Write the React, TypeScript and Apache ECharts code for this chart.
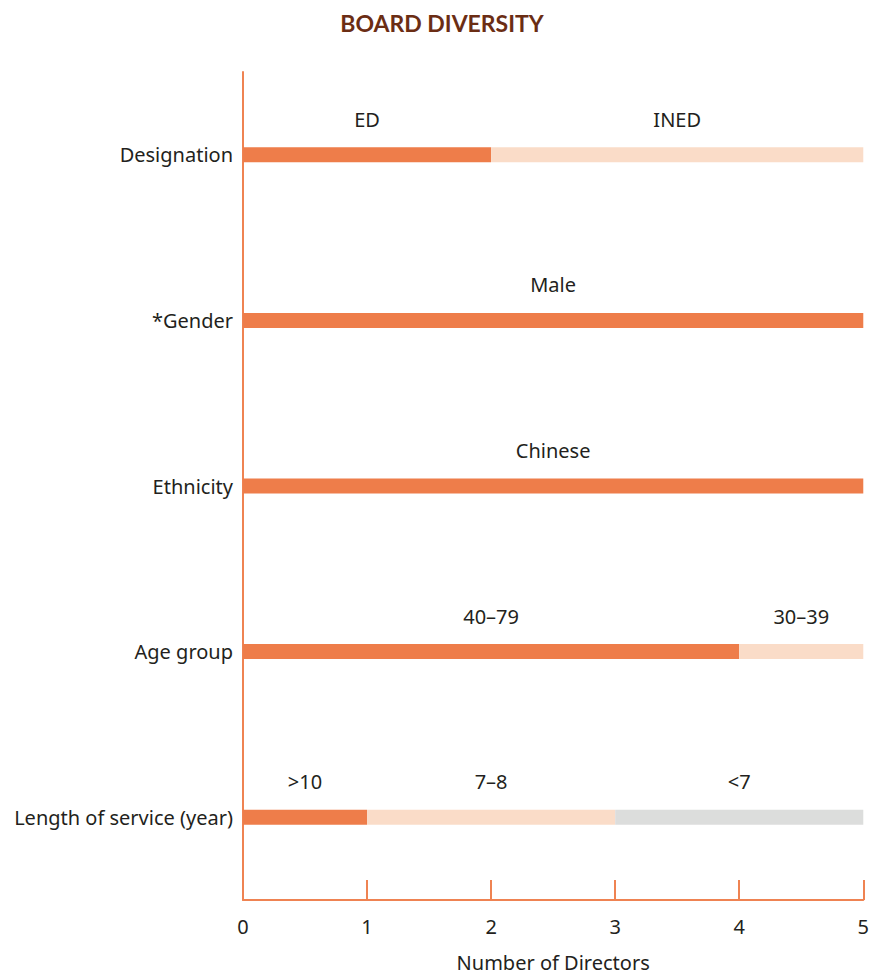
import React, { useEffect, useRef } from "react";
import * as echarts from "echarts";

const categories = ["Designation", "*Gender", "Ethnicity", "Age group", "Length of service (year)"];
const seg1Values = [2, 5, 5, 4, 1];
const seg1Labels = ["ED", "Male", "Chinese", "40–79", ">10"];
const seg2Values = [3, 0, 0, 1, 2];
const seg2Labels = ["INED", "", "", "30–39", "7–8"];
const seg3Values = [0, 0, 0, 0, 2];
const seg3Labels = ["", "", "", "", "<7"];
const xTicks = [0, 1, 2, 3, 4, 5];

const TEXT = "#231F20";
const AXIS = "#EF8352";
const FONT = "'Noto Sans', 'Open Sans', sans-serif";

function seg(name: string, values: number[], labels: string[], color: string) {
  return {
    name,
    type: "bar",
    stack: "total",
    barWidth: 15,
    itemStyle: { color },
    data: values,
    label: {
      show: true,
      position: "top",
      distance: 18,
      color: TEXT,
      fontSize: 20,
      fontFamily: FONT,
      formatter: (p: any) => labels[p.dataIndex] || "",
    },
  };
}

export default function App() {
  const ref = useRef<HTMLDivElement>(null);
  useEffect(() => {
    const chart = echarts.init(ref.current!, null, { renderer: "svg" });
    chart.setOption({
      animation: false,
      backgroundColor: "#ffffff",
      title: {
        text: "BOARD DIVERSITY",
        left: 437,
        textAlign: "center",
        top: 6,
        textStyle: { color: "#6B2D14", fontSize: 23, fontWeight: "bold", fontFamily: "Lato, sans-serif" },
      },
      grid: { left: 243, right: 7, top: 72, bottom: 54 },
      xAxis: {
        type: "value",
        min: xTicks[0],
        max: xTicks[xTicks.length - 1],
        interval: 1,
        name: "Number of Directors",
        nameLocation: "middle",
        nameGap: 52,
        nameTextStyle: { color: TEXT, fontSize: 20, fontFamily: FONT },
        axisLine: { show: true, lineStyle: { color: AXIS, width: 2 } },
        axisTick: { show: true, inside: true, length: 20, lineStyle: { color: AXIS, width: 2 } },
        axisLabel: { color: TEXT, fontSize: 20, fontFamily: FONT, margin: 16 },
        splitLine: { show: false },
      },
      yAxis: {
        type: "category",
        inverse: true,
        data: categories,
        axisLine: { show: true, lineStyle: { color: AXIS, width: 2 } },
        axisTick: { show: false },
        axisLabel: { color: TEXT, fontSize: 20, fontFamily: FONT, margin: 10 },
      },
      series: [
        seg("s1", seg1Values, seg1Labels, "#EE7D4A"),
        seg("s2", seg2Values, seg2Labels, "#FADCC8"),
        seg("s3", seg3Values, seg3Labels, "#DCDDDC"),
      ],
    });
    return () => chart.dispose();
  }, []);
  return <div ref={ref} style={{ position: "fixed", left: 0, top: 0, width: 872, height: 977 }} />;
}
